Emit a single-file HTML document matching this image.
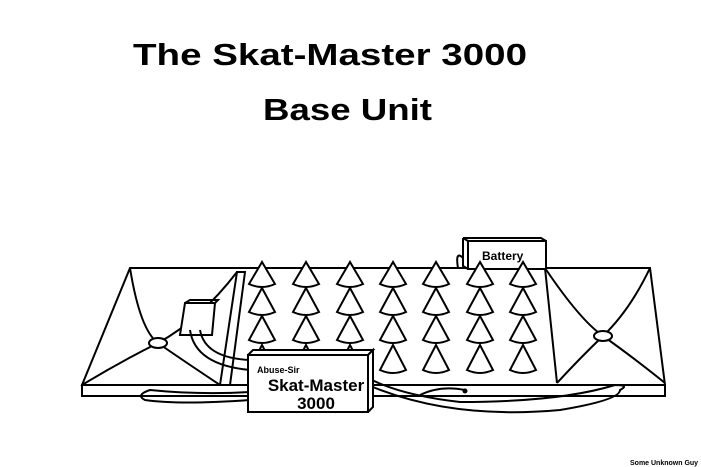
<!DOCTYPE html>
<html><head><style>body{margin:0;background:#fff}svg{display:block}</style></head><body>
<svg width="701" height="467" viewBox="0 0 701 467" xmlns="http://www.w3.org/2000/svg" font-family="Liberation Sans, sans-serif">
<rect width="701" height="467" fill="#fff"/>
<text x="133" y="65" font-size="31" font-weight="bold" textLength="394" lengthAdjust="spacingAndGlyphs">The Skat-Master 3000</text>
<text x="263" y="120" font-size="31" font-weight="bold" textLength="169" lengthAdjust="spacingAndGlyphs">Base Unit</text>
<g fill="none" stroke="#000" stroke-width="2">
<path d="M130 268 L650 268 L665 385 L82 385 Z"/>
<rect x="82" y="385" width="583" height="11"/>
<path d="M237 272 L245 272 L230 385 L220 385 Z"/>
<path d="M545 268 L557 383"/>
<path d="M130 268 Q140 330 158 343 Q175 355 220 385"/>
<path d="M237 272 Q200 320 158 343 Q120 362 82 385"/>
<path d="M545 268 Q580 320 603 336 Q630 355 665 383"/>
<path d="M650 268 Q630 310 603 336 Q580 358 557 383"/>
<ellipse cx="158" cy="343" rx="9" ry="5" fill="#fff"/>
<ellipse cx="603" cy="336" rx="9" ry="5" fill="#fff"/>
<rect x="468" y="241" width="78" height="28" fill="#fff"/>
<path d="M463 238 L541 238 L546 241 M463 238 L463 266 L468 269 M463 238 L468 241"/>
<path d="M463 258 Q455 250 458 268"/>
<path d="M180 335 L185 303 L215 303 L212 335 Z" fill="#fff"/>
<path d="M185 303 L190 300 L218 300 L215 303"/>
<path d="M190 330 Q195 365 250 370 M200 330 Q205 358 250 360" />
<path d="M250 392 Q200 395 150 390 Q135 395 145 400 Q180 405 250 400"/>
<path d="M368 385 Q450 420 560 410 Q620 400 620 390 Q630 385 615 385 Q560 402 460 402 Q400 395 368 378"/>
<path d="M420 395 Q440 385 465 390"/>
</g>
<circle cx="465" cy="391" r="2.5" fill="#000"/>
<g fill="#fff" stroke="#000" stroke-width="2">
<g id="col">
<path d="M262 262 L249 284 Q262 290 275 284 Z"/>
<path d="M262 288 L249 312 Q262 318 275 312 Z"/>
<path d="M262 316 L249 340 Q262 346 275 340 Z"/>
<path d="M262 345 L249 370 Q262 376 275 370 Z"/>
</g>
<use href="#col" x="44"/><use href="#col" x="88"/><use href="#col" x="131"/><use href="#col" x="174"/><use href="#col" x="218"/><use href="#col" x="261"/>
<path d="M248 355 L253 350 L373 350 L368 355"/>
<path d="M368 355 L373 350 L373 407 L368 412"/>
<rect x="248" y="355" width="120" height="57"/>
</g>
<text x="482" y="260" font-size="12" font-weight="bold">Battery</text>
<text x="257" y="373" font-size="9" font-weight="bold">Abuse-Sir</text>
<text x="316" y="391" font-size="17" font-weight="bold" text-anchor="middle">Skat-Master</text>
<text x="316" y="409" font-size="17" font-weight="bold" text-anchor="middle">3000</text>
<text x="630" y="465" font-size="7" font-weight="bold">Some Unknown Guy</text>
</svg>
</body></html>
